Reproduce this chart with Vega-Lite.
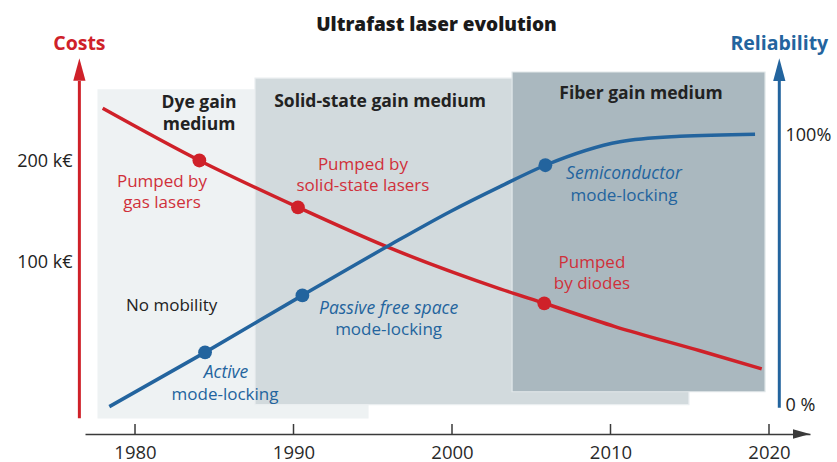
{
  "$schema": "https://vega.github.io/schema/vega-lite/v6.json",
  "width": 725,
  "height": 398,
  "autosize": {"type": "none"},
  "padding": {"left": 85, "top": 36, "right": 27, "bottom": 28},
  "background": "white",
  "title": {
    "text": "Ultrafast laser evolution",
    "font": "Open Sans",
    "fontSize": 19,
    "fontWeight": 800,
    "color": "#1a1a1a",
    "anchor": "middle",
    "frame": "group",
    "dx": -11,
    "offset": -16,
    "baseline": "alphabetic"
  },
  "config": {
    "view": {"stroke": null},
    "font": "Open Sans"
  },
  "datasets": {
    "media": [
      {"medium": "Dye", "year": 1977.67, "year_end": 1994.70, "cost": 327.8, "cost_end": 34.5},
      {"medium": "Solid-state", "year": 1987.57, "year_end": 2014.95, "cost": 355.8, "cost_end": 37.8},
      {"medium": "Fiber", "year": 2003.79, "year_end": 2019.75, "cost": 370.9, "cost_end": 41.3}
    ],
    "cost_curve": [
      {"year": 1977.96, "cost": 289},
      {"year": 1984.06, "cost": 202, "event": "Pumped by gas lasers"},
      {"year": 1990.28, "cost": 146.5, "event": "Pumped by solid-state lasers"},
      {"year": 1995.88, "cost": 111.8},
      {"year": 2003.03, "cost": 83.7},
      {"year": 2005.82, "cost": 75.8, "event": "Pumped by diodes"},
      {"year": 2010.28, "cost": 64.6},
      {"year": 2015.65, "cost": 54.7},
      {"year": 2019.54, "cost": 48.3}
    ],
    "rel_curve": [
      {"year": 1978.38, "rel": -0.6},
      {"year": 1984.42, "rel": 19.5, "event": "Active mode-locking"},
      {"year": 1990.56, "rel": 40.6, "event": "Passive free space mode-locking"},
      {"year": 1995.88, "rel": 58.6},
      {"year": 1999.87, "rel": 71.6},
      {"year": 2003.03, "rel": 80.9},
      {"year": 2005.89, "rel": 88.8, "event": "Semiconductor mode-locking"},
      {"year": 2010.6, "rel": 97.5},
      {"year": 2014.38, "rel": 99.5},
      {"year": 2019.12, "rel": 100.3}
    ],
    "cost_axis": [
      {"year": 1976.49, "cost": 348.7, "cost_end": 34.4, "head": 377.3, "text": "Costs", "label": 448}
    ],
    "rel_axis": [
      {"year": 2020.65, "rel": 120, "rel_end": -1.0, "head": 124.2, "text": "Reliability", "label": 133.7}
    ],
    "year_ticks": [
      {"year": 1980, "cost": 33.1, "cost_end": 30.9},
      {"year": 1990, "cost": 33.1, "cost_end": 30.9},
      {"year": 2000, "cost": 33.1, "cost_end": 30.9},
      {"year": 2010, "cost": 33.1, "cost_end": 30.9},
      {"year": 2020, "cost": 33.1, "cost_end": 30.9}
    ],
    "region_labels": [
      {"year": 1984.04, "cost": 299.8, "text": "Dye gain\nmedium"},
      {"year": 1995.46, "cost": 301.7, "text": "Solid-state gain medium"},
      {"year": 2011.92, "cost": 319, "text": "Fiber gain medium"}
    ],
    "cost_labels": [
      {"year": 1981.70, "cost": 174.7, "text": "Pumped  by\ngas lasers"},
      {"year": 1994.38, "cost": 195.9, "text": "Pumped by\nsolid-state lasers"},
      {"year": 2008.83, "cost": 100.2, "text": "Pumped\nby diodes"}
    ],
    "rel_labels": [
      {"year": 1985.74, "rel": 12.0, "line": 1, "text": "Active"},
      {"year": 1985.68, "rel": 3.7, "line": 2, "text": "mode-locking"},
      {"year": 1996.0, "rel": 35.6, "line": 1, "text": "Passive free space"},
      {"year": 1996.0, "rel": 27.6, "line": 2, "text": "mode-locking"},
      {"year": 2010.85, "rel": 85.4, "line": 1, "text": "Semiconductor"},
      {"year": 2010.85, "rel": 77.5, "line": 2, "text": "mode-locking"}
    ],
    "notes": [
      {"year": 1982.31, "cost": 74.4, "text": "No mobility"}
    ],
    "time_axis": [
      {"year": 2022.05}
    ]
  },
  "encoding": {
    "x": {
      "field": "year",
      "type": "quantitative",
      "scale": {"domain": [1976.845, 2022.587], "nice": false, "zero": false},
      "axis": {
        "values": [1980, 1990, 2000, 2010, 2020],
        "format": "d",
        "title": null,
        "grid": false,
        "domainColor": "#3a3a3a",
        "domainWidth": 1.5,
        "ticks": false,
        "labelFontSize": 18.5,
        "labelColor": "#2a2a2a",
        "labelFont": "Open Sans",
        "labelPadding": 9,
        "labelFlush": false
      }
    }
  },
  "layer": [
    {
      "encoding": {
        "y": {
          "field": "cost",
          "type": "quantitative",
          "scale": {"type": "log", "domain": [30.9, 474.8], "nice": false, "zero": false},
          "axis": {
            "orient": "left",
            "offset": 6,
            "values": [100, 200],
            "labelExpr": "datum.value + ' k€'",
            "title": null,
            "grid": false,
            "domain": false,
            "ticks": false,
            "labelPadding": 7,
            "labelFontSize": 18,
            "labelColor": "#222222",
            "labelFont": "Open Sans"
          }
        }
      },
      "layer": [
        {
          "data": {"name": "media"},
          "mark": {"type": "rect", "strokeWidth": 1.2},
          "encoding": {
            "x2": {"field": "year_end"},
            "y2": {"field": "cost_end"},
            "fill": {
              "field": "medium",
              "type": "nominal",
              "scale": {"domain": ["Dye", "Solid-state", "Fiber"], "range": ["#eef2f3", "#d2dadd", "#aab8bf"]},
              "legend": null
            },
            "stroke": {
              "field": "medium",
              "type": "nominal",
              "scale": {"domain": ["Dye", "Solid-state", "Fiber"], "range": ["#eef2f3", "#eaeef0", "#e2e8ea"]},
              "legend": null
            }
          }
        },
        {
          "data": {"name": "year_ticks"},
          "mark": {"type": "rule", "color": "#3a3a3a", "strokeWidth": 1.5},
          "encoding": {"y2": {"field": "cost_end"}}
        },
        {
          "data": {"name": "cost_axis"},
          "mark": {"type": "rule", "color": "#cf2129", "strokeWidth": 3},
          "encoding": {"y2": {"field": "cost_end"}}
        },
        {
          "data": {"name": "cost_axis"},
          "mark": {"type": "point", "shape": "M0,-1L0.54,1L-0.54,1Z", "filled": true, "color": "#cf2129", "opacity": 1, "size": 515},
          "encoding": {"y": {"field": "head", "type": "quantitative"}}
        },
        {
          "data": {"name": "cost_axis"},
          "mark": {"type": "text", "color": "#cf2129", "fontSize": 19.5, "fontWeight": "bold", "font": "Open Sans", "baseline": "middle"},
          "encoding": {"y": {"field": "label", "type": "quantitative"}, "text": {"field": "text"}}
        },
        {
          "data": {"name": "time_axis"},
          "mark": {"type": "point", "shape": "M1,0L-1,-0.55L-1,0.55Z", "filled": true, "color": "#3a3a3a", "opacity": 1, "size": 289},
          "encoding": {"y": {"value": "height"}}
        },
        {
          "data": {"name": "region_labels"},
          "mark": {"type": "text", "color": "#222222", "fontSize": 17.5, "fontWeight": "bold", "font": "Open Sans", "baseline": "middle", "lineBreak": "\n", "lineHeight": 22},
          "encoding": {"text": {"field": "text"}}
        },
        {
          "data": {"name": "notes"},
          "mark": {"type": "text", "color": "#222222", "fontSize": 17, "font": "Open Sans", "baseline": "middle"},
          "encoding": {"text": {"field": "text"}}
        },
        {
          "data": {"name": "cost_labels"},
          "mark": {"type": "text", "color": "#d0303a", "fontSize": 17, "font": "Open Sans", "baseline": "middle", "lineBreak": "\n", "lineHeight": 21.5},
          "encoding": {"text": {"field": "text"}}
        },
        {
          "data": {"name": "cost_curve"},
          "mark": {"type": "line", "color": "#cf2129", "strokeWidth": 3.5, "interpolate": "monotone"},
          "encoding": {}
        },
        {
          "data": {"name": "cost_curve"},
          "transform": [{"filter": "isValid(datum.event)"}],
          "mark": {"type": "point", "filled": true, "color": "#cf2129", "opacity": 1, "size": 190},
          "encoding": {}
        }
      ]
    },
    {
      "encoding": {
        "y": {
          "field": "rel",
          "type": "quantitative",
          "scale": {"domain": [-10.74, 136.67], "nice": false, "zero": false},
          "axis": {
            "orient": "right",
            "offset": -31,
            "values": [0, 100],
            "labelExpr": "datum.value == 100 ? '100%' : '0 %'",
            "title": null,
            "grid": false,
            "domain": false,
            "ticks": false,
            "labelPadding": 6,
            "labelFontSize": 18,
            "labelColor": "#222222",
            "labelFont": "Open Sans"
          }
        }
      },
      "layer": [
        {
          "data": {"name": "rel_axis"},
          "mark": {"type": "rule", "color": "#23649e", "strokeWidth": 3},
          "encoding": {"y2": {"field": "rel_end"}}
        },
        {
          "data": {"name": "rel_axis"},
          "mark": {"type": "point", "shape": "M0,-1L0.54,1L-0.54,1Z", "filled": true, "color": "#23649e", "opacity": 1, "size": 515},
          "encoding": {"y": {"field": "head", "type": "quantitative"}}
        },
        {
          "data": {"name": "rel_axis"},
          "mark": {"type": "text", "color": "#23649e", "fontSize": 19.5, "fontWeight": "bold", "font": "Open Sans", "baseline": "middle"},
          "encoding": {"y": {"field": "label", "type": "quantitative"}, "text": {"field": "text"}}
        },
        {
          "data": {"name": "rel_labels"},
          "transform": [{"filter": "datum.line == 1"}],
          "mark": {"type": "text", "color": "#23649e", "fontSize": 17.5, "font": "Open Sans", "fontStyle": "italic", "baseline": "middle"},
          "encoding": {"text": {"field": "text"}}
        },
        {
          "data": {"name": "rel_labels"},
          "transform": [{"filter": "datum.line == 2"}],
          "mark": {"type": "text", "color": "#23649e", "fontSize": 17, "font": "Open Sans", "baseline": "middle"},
          "encoding": {"text": {"field": "text"}}
        },
        {
          "data": {"name": "rel_curve"},
          "mark": {"type": "line", "color": "#23649e", "strokeWidth": 3.5, "interpolate": "monotone"},
          "encoding": {}
        },
        {
          "data": {"name": "rel_curve"},
          "transform": [{"filter": "isValid(datum.event)"}],
          "mark": {"type": "point", "filled": true, "color": "#23649e", "opacity": 1, "size": 190},
          "encoding": {}
        }
      ]
    }
  ],
  "resolve": {"scale": {"y": "independent"}}
}
